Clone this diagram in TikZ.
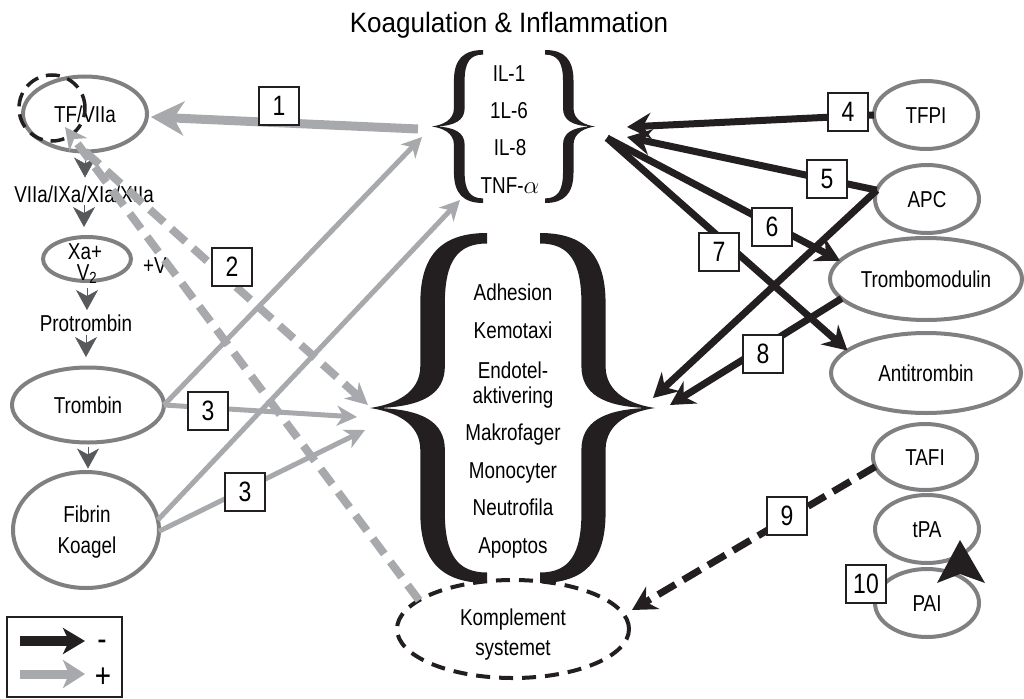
\documentclass[tikz,border=0pt]{standalone}
\usepackage{fontspec}
\setmainfont{Liberation Sans}[FakeStretch=0.82]
\newfontfamily\titlefamily{Liberation Sans}[FakeStretch=0.93]
\usetikzlibrary{shapes.geometric,arrows.meta}
\definecolor{ink}{RGB}{35,31,32}
\definecolor{ring}{RGB}{128,128,130}
\definecolor{plus}{RGB}{167,169,172}
\definecolor{chain}{RGB}{88,89,91}
\newcommand\lblfont{\fontsize{23pt}{27pt}\selectfont}
\newcommand\numfnt{\fontsize{28pt}{32pt}\selectfont}
\newcommand\headfnt{\titlefamily\fontsize{28pt}{32pt}\selectfont}
\newcommand\signfnt{\fontsize{34pt}{38pt}\selectfont}
% a curly brace with its tip on the left, in a unit box
\newcommand\curlyfill{%
  \fill[ink] (1,0) .. controls (0.62,0) and (0.43,0.06) .. (0.43,0.2)
    -- (0.43,0.38) .. controls (0.43,0.46) and (0.2,0.49) .. (0,0.5)
    .. controls (0.2,0.51) and (0.43,0.54) .. (0.43,0.62)
    -- (0.43,0.8) .. controls (0.43,0.94) and (0.62,1) .. (1,1)
    -- (1,0.97) .. controls (0.75,0.97) and (0.64,0.92) .. (0.64,0.8)
    -- (0.64,0.62) .. controls (0.64,0.54) and (0.45,0.505) .. (0.08,0.5)
    .. controls (0.45,0.495) and (0.64,0.46) .. (0.64,0.38)
    -- (0.64,0.2) .. controls (0.64,0.08) and (0.75,0.03) .. (1,0.03) -- cycle;}
\tikzset{
  oval/.style={ellipse, draw=ring, line width=4pt, inner sep=0pt, outer sep=0pt,
    text height=16.5pt, text depth=0pt, font=\lblfont},
  txt/.style={inner sep=0pt, anchor=base, font=\lblfont},
  numbox/.style={draw=ink, fill=white, line width=2.2pt, minimum width=40pt,
    minimum height=38pt, inner sep=0pt, font=\numfnt},
  actarrow/.style={draw=plus, line width=5pt, -{Stealth[length=20pt,width=20pt,inset=6pt]}},
  actthick/.style={draw=plus, line width=9pt, -{Stealth[length=33pt,width=34pt,inset=10pt]}},
  actdash/.style={draw=plus, line width=8pt, dash pattern=on 19pt off 10pt,
    -{Stealth[length=22pt,width=22pt,inset=7pt]}},
  inharrow/.style={draw=ink, line width=7pt, -{Stealth[length=24pt,width=26pt,inset=8pt]}},
  inhdash/.style={draw=ink, line width=7pt, dash pattern=on 20pt off 9pt,
    -{Stealth[length=24pt,width=26pt,inset=8pt]}},
  chainhead/.style={draw=chain, line width=0.5pt, -{Stealth[length=20pt,width=22pt,inset=6pt]}},
}
\begin{document}
\begin{tikzpicture}[x=1pt,y=-1pt]
\useasboundingbox (0,0) rectangle (1024,698);

% heading
\node[txt, font=\headfnt] (title) at (509,33) {Koagulation \& Inflammation};

% coagulation cascade (left column)
\node[oval, minimum width=124pt, minimum height=75pt] (tf) at (85,114) {TF/VIIa};
\node[circle, draw=ink, line width=3.5pt, dash pattern=on 14pt off 8pt,
      minimum size=66pt, inner sep=0pt] (tfring) at (52,108) {};
\node[txt] (casc) at (84,202) {VIIa/IXa/XIa/XIIa};
\node[oval, minimum width=88pt, minimum height=44pt] (xa) at (87,259) {};
\node[txt] (xat) at (85,259) {Xa+};
\node[txt] (vt) at (87,280) {V\textsubscript{2}};
\node[txt] (plusv) at (155,273) {+V};
\node[txt] (pro) at (86,331) {Protrombin};
\node[oval, minimum width=152pt, minimum height=75pt] (tromb) at (88,405) {Trombin};
\node[oval, minimum width=146pt, minimum height=116pt] (fib) at (86,530) {};
\node[txt] (fibt) at (87,522) {Fibrin};
\node[txt] (koat) at (87,553) {Koagel};

\draw[chainhead] ([yshift=-4pt]tf.south) -- ++(0,22);
\draw[chainhead] ([yshift=-3pt]casc.base) -- ++(0,22);
\draw[chainhead] ([yshift=-7pt]xa.south) -- ++(0,22);
\draw[chainhead] ([yshift=-4pt]pro.base) -- ++(0,22);
\draw[chainhead] ([yshift=-4pt]tromb.south) -- ++(0,22);

% cytokines
\begin{scope}[shift={(432,50)}, xscale=51, yscale=153] \curlyfill \end{scope}
\begin{scope}[shift={(595,50)}, xscale=-50, yscale=153] \curlyfill \end{scope}
\node[txt] (il1) at (509,82) {IL-1};
\node[txt] (il6) at (509,118) {1L-6};
\node[txt] (il8) at (510,155) {IL-8};
\node[txt] (tnf) at (510,193) {TNF-$\alpha$};

% cellular responses
\begin{scope}[shift={(370,233)}, xscale=117, yscale=350] \curlyfill \end{scope}
\begin{scope}[shift={(655,233)}, xscale=-115, yscale=350] \curlyfill \end{scope}
\node[txt] (r1) at (513,300) {Adhesion};
\node[txt] (r2) at (513,338) {Kemotaxi};
\node[txt] (r3) at (513,378) {Endotel-};
\node[txt] (r4) at (513,403) {aktivering};
\node[txt] (r5) at (513,440) {Makrofager};
\node[txt] (r6) at (513,478) {Monocyter};
\node[txt] (r7) at (513,515) {Neutrofila};
\node[txt] (r8) at (513,553) {Apoptos};

% complement system
\node[ellipse, draw=ink, line width=4pt, dash pattern=on 14pt off 9pt,
      minimum width=232pt, minimum height=98pt, inner sep=0pt, outer sep=0pt] (komp) at (513,629) {};
\node[txt] (kompt) at (513,625) {Komplement};
\node[txt] (syst) at (513,655) {systemet};

% inhibitors (right column)
\node[oval, minimum width=104pt, minimum height=68pt] (tfpi) at (926,115) {TFPI};
\node[oval, minimum width=104pt, minimum height=68pt] (apc) at (927,199) {APC};
\node[oval, minimum width=192pt, minimum height=82pt] (tmod) at (926,279) {Trombomodulin};
\node[oval, minimum width=190pt, minimum height=80pt] (anti) at (926,373) {Antitrombin};
\node[oval, minimum width=104pt, minimum height=66pt] (tafi) at (925,457) {TAFI};
\node[oval, minimum width=104pt, minimum height=68pt] (tpa) at (927,529) {tPA};
\node[oval, minimum width=104pt, minimum height=68pt] (pai) at (927,603) {PAI};

% connector end points at the braces
\coordinate (cL) at (418,129);
\coordinate (cLa) at (422,137);
\coordinate (cLb) at (460,200);
\coordinate (cR0) at (607,138);
\coordinate (cR1) at (627,127);
\coordinate (cR2) at (627,137);
\coordinate (bL1) at (368,405);
\coordinate (bL2) at (357,417);
\coordinate (bL3) at (365,430);
\coordinate (bR1) at (653,398);
\coordinate (bR2) at (670,405);
\coordinate (tfin) at (65,127);
\coordinate (kin) at (632,610);

% activating (+) connectors
\draw[actthick, shorten >=4pt] (cL) -- (tf);
\draw[actdash] (tf.south) -- (bL1);
\draw[actdash] (komp.163) -- (tfin);
\draw[actarrow] (tromb.east) -- (bL2);
\draw[actarrow] (tromb.east) -- (cLa);
\draw[actarrow] (fib.8) -- (cLb);
\draw[actarrow] (fib.-1) -- (bL3);

% inhibiting (-) connectors
\draw[inharrow] (tfpi.west) -- (cR1);
\draw[inharrow] (apc.170) -- (cR2);
\draw[inharrow] (apc.170) -- (bR1);
\draw[inharrow] (cR0) -- (tmod.168);
\draw[inharrow] (cR0) -- (anti.164);
\draw[inharrow] (tmod.193) -- (bR2);
\draw[inhdash] (tafi.191) -- (kin);
\fill[ink] (960,540) -- (985,583) -- (960,574) -- (937,583) -- cycle;

% numbered labels
\node[numbox] (n1) at (279,106) {1};
\node[numbox] (n2) at (232,267) {2};
\node[numbox] (n3a) at (208,411) {3};
\node[numbox] (n3b) at (245,492) {3};
\node[numbox] (n4) at (848,112) {4};
\node[numbox] (n5) at (827,179) {5};
\node[numbox] (n6) at (772,227) {6};
\node[numbox] (n7) at (719,252) {7};
\node[numbox] (n8) at (763,354) {8};
\node[numbox] (n9) at (787,516) {9};
\node[numbox] (n10) at (866,584) {10};

% legend
\node[draw=ink, line width=2pt, minimum width=115pt, minimum height=80pt,
      inner sep=0pt, outer sep=0pt] (legend) at (64.5,657) {};
\coordinate (lga) at (20,641);
\coordinate (lgb) at (85,641);
\coordinate (lgc) at (20,674);
\coordinate (lgd) at (85,674);
\draw[draw=ink, line width=10pt, -{Stealth[length=22pt,width=26pt,inset=6pt]}] (lga) -- (lgb);
\draw[draw=plus, line width=9pt, -{Stealth[length=22pt,width=28pt,inset=6pt]}] (lgc) -- (lgd);
\node[txt, font=\signfnt] (minus) at (102,650) {-};
\node[txt, font=\signfnt] (plussign) at (103,687) {+};
\end{tikzpicture}
\end{document}
